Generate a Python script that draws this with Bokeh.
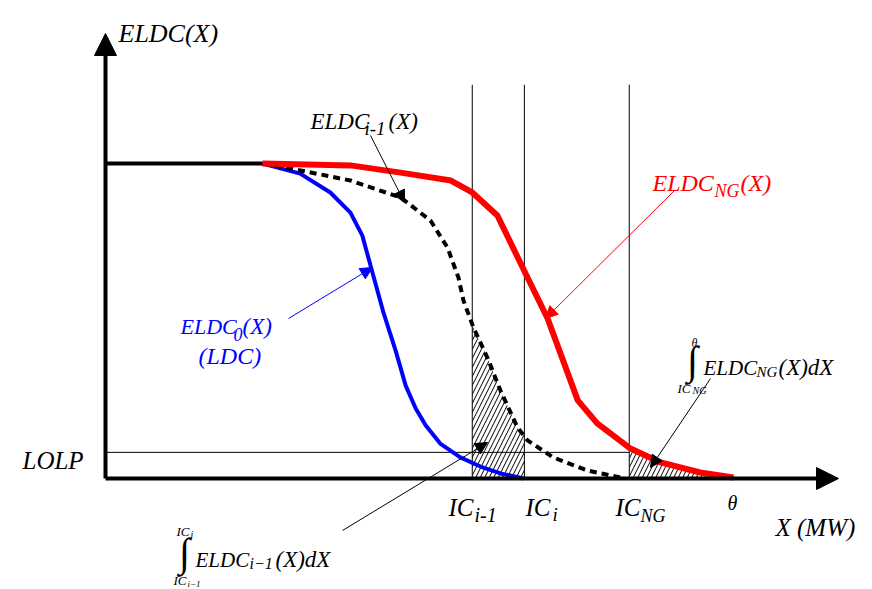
from bokeh.plotting import figure
from bokeh.models import Range1d, Arrow, NormalHead, Label
from bokeh.embed import file_html
from bokeh.resources import INLINE
import numpy as np

# ---------------- data (X in MW-like units, ELDC as probability) ----------------
peak_x = [0.0, 25.0]
peak_y = [1.0, 1.0]

blue_x = [25.0, 31.0, 35.8, 39.0, 40.9, 42.2, 44.3, 46.2, 47.8, 49.4, 51.0, 53.3, 56.5, 59.7, 62.9, 66.6]
blue_y = [1.0, 0.968, 0.908, 0.844, 0.771, 0.676, 0.524, 0.406, 0.295, 0.222, 0.168, 0.111, 0.067, 0.038, 0.016, 0.0]

dash_x = [25.0, 31.05, 39.0, 47.0, 51.75, 54.46, 56.2, 57.0, 58.6, 60.8, 62.9, 65.6, 67.2, 71.3, 76.8, 82.0]
dash_y = [1.0, 0.978, 0.946, 0.892, 0.819, 0.733, 0.638, 0.565, 0.479, 0.384, 0.279, 0.162, 0.121, 0.067, 0.025, 0.003]

red_x = [25.0, 39.0, 47.0, 55.0, 58.4, 62.4, 67.2, 70.4, 75.2, 78.3, 83.6, 88.4, 94.7, 100.0]
red_y = [1.0, 0.994, 0.971, 0.946, 0.908, 0.835, 0.638, 0.508, 0.248, 0.175, 0.095, 0.051, 0.019, 0.003]

ic_names = ["IC_i-1", "IC_i", "IC_NG"]
ic_x = [58.4, 66.7, 83.4]
theta = 100.0
lolp = 0.083
vline_top = 1.25

# ---------------- layout helpers (pixel -> data, for annotations) ----------------
SX, OX = 6.28, 105.0
SY, OY = 315.0, 478.0
W, H = 872, 589


def X(px):
    return (px - OX) / SX


def Y(py):
    return (OY - py) / SY


p = figure(width=W, height=H, x_range=Range1d(X(0), X(W)), y_range=Range1d(Y(H), Y(0)),
           x_axis_type=None, y_axis_type=None, output_backend="svg", toolbar_location=None,
           min_border=0, outline_line_color=None)
p.grid.visible = False
p.background_fill_color = "white"
p.border_fill_color = "white"

# hatched areas
xs1 = [ic_x[0]] + [x for x in dash_x if ic_x[0] < x < ic_x[1]] + [ic_x[1]]
ys1 = list(np.interp(xs1, dash_x, dash_y))
p.varea(x=xs1, y1=[0] * len(xs1), y2=ys1, fill_color=None, hatch_pattern="/",
        hatch_color="black", hatch_scale=9, hatch_weight=1)
xs2 = [ic_x[2]] + [x for x in red_x if ic_x[2] < x < theta] + [theta]
ys2 = list(np.interp(xs2, red_x, red_y))
p.varea(x=xs2, y1=[0] * len(xs2), y2=ys2, fill_color=None, hatch_pattern="/",
        hatch_color="black", hatch_scale=9, hatch_weight=1)

# thin vertical capacity lines and LOLP line
for xv in ic_x:
    p.line([xv, xv], [0, vline_top], line_color="black", line_width=1)
p.line([0, ic_x[2]], [lolp, lolp], line_color="black", line_width=1)

# curves
p.line(peak_x, peak_y, line_color="black", line_width=4)
p.line(blue_x, blue_y, line_color="#0000ff", line_width=4)
p.line(dash_x, dash_y, line_color="black", line_width=4, line_dash="7 5")
p.line(red_x, red_y, line_color="#ff0000", line_width=6)

# axes with arrows
p.add_layout(Arrow(x_start=0, y_start=0, x_end=0, y_end=Y(33), line_width=4, line_color="black",
                   end=NormalHead(size=22, fill_color="black", line_color="black")))
p.add_layout(Arrow(x_start=0, y_start=0, x_end=X(838), y_end=0, line_width=4, line_color="black",
                   end=NormalHead(size=22, fill_color="black", line_color="black")))


def arrow(x0, y0, x1, y1, color):
    p.add_layout(Arrow(x_start=X(x0), y_start=Y(y0), x_end=X(x1), y_end=Y(y1), line_width=1,
                       line_color=color,
                       end=NormalHead(size=12, fill_color=color, line_color=color)))


arrow(370, 135, 404, 202, "black")
arrow(674, 190, 545, 318, "#ff0000")
arrow(288, 318, 372, 267, "#0000ff")
arrow(710, 378, 650, 467, "black")
arrow(342, 530, 487, 442, "black")

FONT = "Liberation Serif"


def lab(px, py, txt, size, color="black", style="italic", align="left", baseline="alphabetic"):
    p.add_layout(Label(x=X(px), y=Y(py), text=txt, text_font=FONT, text_font_style=style,
                       text_font_size=f"{size}px", text_color=color, text_align=align,
                       text_baseline=baseline))


# axis titles
lab(118, 33, "ELDC(X)", 26)
lab(775, 527, "X (MW)", 25)
lab(22, 460, "LOLP", 25)
lab(727, 502, "θ", 20)

# x positions
lab(448, 507, "IC", 25); lab(474, 514, "i-1", 20)
lab(525, 507, "IC", 25); lab(552, 514, "i", 19)
lab(615, 507, "IC", 25); lab(640, 515, "NG", 18)

# curve names
lab(310, 121, "ELDC", 23); lab(364, 128, "i-1", 19); lab(388, 121, "(X)", 23)
lab(652, 182, "ELDC", 24, "#ff0000"); lab(714, 190, "NG", 18, "#ff0000"); lab(740, 182, "(X)", 24, "#ff0000")
lab(180, 326, "ELDC", 22, "#0000ff"); lab(233, 334, "0", 18, "#0000ff"); lab(242, 326, "(X)", 23, "#0000ff")
lab(198, 355, "(LDC)", 24, "#0000ff")

# integral of ELDC_NG
lab(694, 342, "θ", 12, align="center")
lab(692, 360, "∫", 40, style="normal", align="center", baseline="middle")
lab(677, 388, "IC", 13); lab(692, 390, "NG", 10)
lab(703, 367, "ELDC", 21); lab(756, 371, "NG", 15); lab(778, 367, "(X)dX", 23)

# integral of ELDC_i-1
lab(176, 531, "IC", 13); lab(190, 534, "i", 10)
lab(184, 552, "∫", 40, style="normal", align="center", baseline="middle")
lab(173, 580, "IC", 13); lab(187, 583, "i−1", 9)
lab(195, 559, "ELDC", 21); lab(249, 563, "i−1", 16); lab(275, 559, "(X)dX", 23)

open("out.html", "w").write(file_html(p, INLINE))
